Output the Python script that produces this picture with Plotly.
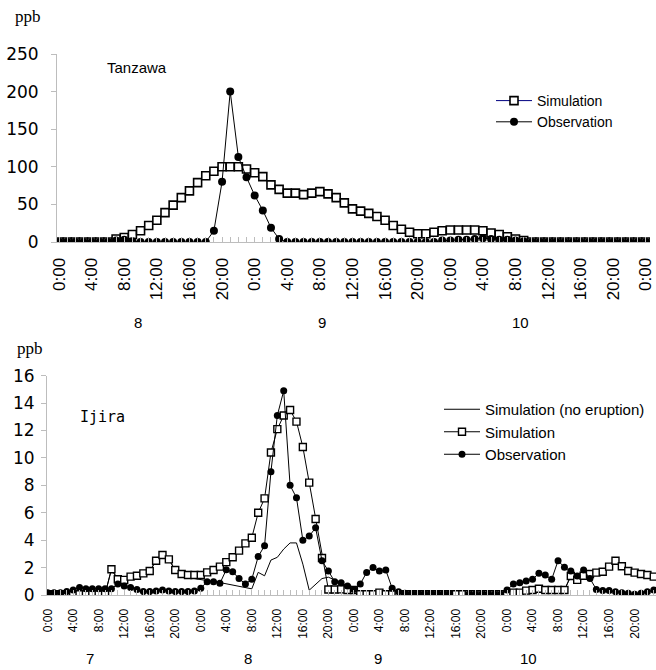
import plotly.graph_objects as go

W, H = 656, 670

# ── Tanzawa (hourly, day 8 0:00 → day 11 0:00) ──────────────────────────────
tanzawa_hours = list(range(73))
tanzawa_sim = [0, 0, 0, 0, 0, 0, 0, 4, 6, 10, 15, 22, 29, 39, 49, 59, 68, 79, 88, 94,
               100, 100, 100, 97, 92, 87, 76, 70, 65, 65, 63, 65, 67, 64, 59, 52, 44, 41, 38, 34,
               29, 22, 17, 13, 11, 11, 13, 15, 16, 16, 16, 16, 15, 12, 10, 7, 4, 2, 0, 0,
               0, 0, 0, 0, 0, 0, 0, 0, 0, 0, 0, 0, 0]
tanzawa_obs = [0, 0, 0, 0, 0, 0, 0, 2, 3, 1, 0, 0, 0, 0, 0, 0, 0, 0, 0, 15,
               80, 200, 113, 86, 62, 42, 19, 4, 0, 0, 0, 0, 0, 0, 0, 0, 0, 0, 0, 0,
               0, 0, 0, 0, 0, 0, 0, 2, 2, 3, 3, 4, 5, 4, 3, 3, 2, 1, 0, 0,
               0, 0, 0, 0, 0, 0, 0, 0, 0, 0, 0, 0, 0]
tanzawa_days = ["8", "9", "10"]
tanzawa_day_hours = [9.7, 32.2, 56.6]

# ── Ijira (hourly, day 7 0:00 → day 10 23:00) ───────────────────────────────
ijira_hours = list(range(96))
ijira_sim = [0.05, 0.05, 0.05, 0.05, 0.05, 0.05, 0.05, 0.05, 0.05, 0.05,
             1.88, 1.15, 1.1, 1.34, 1.4, 1.58, 1.75, 2.5, 2.92, 2.6,
             1.82, 1.53, 1.46, 1.46, 1.46, 1.65, 1.82, 2.07, 2.4, 2.75,
             3.24, 3.77, 4.18, 6.0, 7.05, 10.4, 12.1, 13.1, 13.5, 12.65,
             10.8, 8.2, 5.55, 2.7, 0.4, 0.4, 0.41, 0.36, 0.36, 0.05,
             0.05, 0.05, 0.17, 0.05, 0.05, 0.05, 0.05, 0.05, 0.05, 0.05,
             0.05, 0.05, 0.05, 0.05, 0.05, 0.05, 0.05, 0.05, 0.05, 0.05,
             0.05, 0.05, 0.0, 0.17, 0.17, 0.32, 0.36, 0.46, 0.36, 0.36,
             0.36, 0.36, 1.39, 1.1, 1.4, 1.53, 1.63, 1.7, 2.07, 2.5,
             2.1, 1.75, 1.63, 1.53, 1.46, 1.34]
ijira_noerup = [0.05, 0.05, 0.05, 0.05, 0.05, 0.05, 0.05, 0.05, 0.05, 0.05,
                1.88, 1.15, 1.1, 1.34, 1.4, 1.58, 1.75, 2.5, 2.92, 2.6,
                1.82, 1.53, 1.3, 1.2, 1.1, 1.05, 1.0, 0.9, 0.85, 0.75,
                0.65, 0.5, 0.45, 1.65, 1.4, 2.55, 2.75, 3.35, 3.8, 3.8,
                2.25, 0.35, 0.8, 1.2, 1.3, 1.1, 0.8, 0.5, 0.3, 0.05,
                0.05, 0.05, 0.17, 0.05, 0.05, 0.05, 0.05, 0.05, 0.05, 0.05,
                0.05, 0.05, 0.05, 0.05, 0.05, 0.05, 0.05, 0.05, 0.05, 0.05,
                0.05, 0.05, 0.0, 0.17, 0.17, 0.32, 0.36, 0.46, 0.36, 0.36,
                0.36, 0.36, 1.39, 1.1, 1.4, 1.53, 1.63, 1.7, 2.07, 2.5,
                2.1, 1.75, 1.63, 1.53, 1.46, 1.34]
ijira_obs = [0.17, 0.17, 0.17, 0.25, 0.37, 0.55, 0.46, 0.46, 0.46, 0.46,
             0.46, 0.8, 0.65, 0.55, 0.4, 0.25, 0.25, 0.3, 0.37, 0.3,
             0.25, 0.25, 0.25, 0.3, 0.5, 0.97, 0.97, 0.85, 1.85, 1.7,
             1.2, 0.8, 1.15, 2.8, 3.6, 9.0, 13.1, 14.9, 8.0, 7.1,
             4.0, 4.3, 4.9, 2.5, 1.75, 0.97, 0.9, 0.66, 0.41, 0.8,
             1.65, 2.0, 1.75, 1.82, 0.49, 0.24, 0.12, 0.1, 0.1, 0.1,
             0.1, 0.1, 0.1, 0.1, None, None, 0.05, 0.05, 0.05, 0.05,
             0.05, 0.05, 0.36, 0.8, 0.9, 1.02, 1.14, 1.58, 1.46, 1.14,
             2.5, 2.02, 1.75, 1.39, 1.82, 1.2, 0.41, 0.32, 0.32, 0.24,
             0.17, 0.12, 0.05, 0.12, 0.24, 0.36]
ijira_days = ["7", "8", "9", "10"]
ijira_day_hours = [6.7, 31.4, 51.7, 75.4]

TIME_LABELS = ["0:00", "4:00", "8:00", "12:00", "16:00", "20:00"]
GREY = "#bdbdbd"


def px_x(x):
    return x / W


def px_y(y):
    return 1 - y / H


fig = go.Figure()

# top panel
fig.add_trace(go.Scatter(
    x=tanzawa_hours, y=tanzawa_sim, name="Simulation", mode="lines+markers",
    line=dict(color="#000080", width=1),
    marker=dict(symbol="square", size=8, color="white", line=dict(color="black", width=1.6)),
    xaxis="x", yaxis="y", legend="legend", legendgroup="a",
))
fig.add_trace(go.Scatter(
    x=tanzawa_hours, y=tanzawa_obs, name="Observation", mode="lines+markers",
    line=dict(color="black", width=1),
    marker=dict(symbol="circle", size=8, color="black"),
    xaxis="x", yaxis="y", legend="legend", legendgroup="b",
))

# bottom panel
fig.add_trace(go.Scatter(
    x=ijira_hours, y=ijira_noerup, name="Simulation (no eruption)", mode="lines",
    line=dict(color="black", width=1),
    xaxis="x2", yaxis="y2", legend="legend2", legendgroup="c",
))
fig.add_trace(go.Scatter(
    x=ijira_hours, y=ijira_sim, name="Simulation", mode="lines+markers",
    line=dict(color="black", width=1),
    marker=dict(symbol="square", size=7, color="white", line=dict(color="black", width=1.4)),
    xaxis="x2", yaxis="y2", legend="legend2", legendgroup="d",
))
fig.add_trace(go.Scatter(
    x=ijira_hours, y=ijira_obs, name="Observation", mode="lines+markers",
    line=dict(color="black", width=1),
    marker=dict(symbol="circle", size=7, color="black"),
    xaxis="x2", yaxis="y2", legend="legend2", legendgroup="e",
))

_XAX = dict(
    showline=True, linecolor=GREY, linewidth=1, showgrid=False, zeroline=False,
    ticks="inside", ticklen=5, tickcolor=GREY, tickangle=-90, automargin=False,
    minor=dict(tickmode="linear", tick0=0, dtick=1, ticks="inside", ticklen=5,
               tickcolor=GREY, showgrid=False),
)
_YAX = dict(
    showline=True, linecolor=GREY, linewidth=1, showgrid=False, zeroline=False,
    ticks="outside", ticklen=5, tickcolor=GREY, automargin=False,
    tickfont=dict(family="DejaVu Sans", size=17, color="black"),
)

top_ticks = list(range(0, 73, 4))
bot_ticks = list(range(0, 97, 4))

fig.update_layout(
    width=W, height=H,
    margin=dict(l=0, r=0, t=0, b=0, autoexpand=False),
    plot_bgcolor="white", paper_bgcolor="white",
    font=dict(family="Liberation Sans, Arial, sans-serif", color="black"),
    xaxis=dict(**_XAX, domain=[px_x(57), px_x(650)], anchor="y", range=[-0.25, 72.5],
               tickmode="array", tickvals=top_ticks,
               ticktext=[TIME_LABELS[(t // 4) % 6] for t in top_ticks],
               tickfont=dict(size=17), ticklabelstandoff=8),
    yaxis=dict(**_YAX, domain=[px_y(242), px_y(54)], anchor="x", range=[0, 250],
               dtick=50, ticklabelstandoff=9),
    xaxis2=dict(**_XAX, domain=[px_x(47), 1], anchor="y2", range=[-0.1, 95.35],
                tickmode="array", tickvals=bot_ticks,
                ticktext=[TIME_LABELS[(t // 4) % 6] for t in bot_ticks],
                tickfont=dict(size=12), ticklabelstandoff=8),
    yaxis2=dict(**_YAX, domain=[px_y(595), px_y(375.7)], anchor="x2", range=[0, 16],
                dtick=2, ticklabelstandoff=3),
    legend=dict(x=px_x(491), y=px_y(85), xanchor="left", yanchor="top",
                bgcolor="rgba(0,0,0,0)", font=dict(size=14), tracegroupgap=0,
                itemwidth=36),
    legend2=dict(x=px_x(439), y=px_y(393), xanchor="left", yanchor="top",
                 bgcolor="rgba(0,0,0,0)", font=dict(size=15), tracegroupgap=0,
                 itemwidth=36),
)

annotations = [
    dict(text="ppb", x=px_x(13), y=px_y(17), xanchor="left", yanchor="middle",
         font=dict(family="Liberation Serif", size=17)),
    dict(text="ppb", x=px_x(15), y=px_y(348), xanchor="left", yanchor="middle",
         font=dict(family="Liberation Serif", size=17)),
    dict(text="Tanzawa", x=px_x(105), y=px_y(68), xanchor="left", yanchor="middle",
         font=dict(size=15)),
    dict(text="Ijira", x=px_x(78), y=px_y(417), xanchor="left", yanchor="middle",
         font=dict(family="DejaVu Sans Mono", size=15)),
]
for lab, h in zip(tanzawa_days, tanzawa_day_hours):
    annotations.append(dict(text=lab, x=h, xref="x", y=px_y(322), yref="paper",
                            showarrow=False, font=dict(size=15)))
for lab, h in zip(ijira_days, ijira_day_hours):
    annotations.append(dict(text=lab, x=h, xref="x2", y=px_y(669), yref="paper",
                            yanchor="bottom", showarrow=False, font=dict(size=15)))
for a in annotations:
    a.setdefault("xref", "paper")
    a.setdefault("yref", "paper")
    a["showarrow"] = False
fig.update_layout(annotations=annotations)

fig.write_html("out.html", config={"displayModeBar": False},
               post_script="document.body.style.margin='0';")
